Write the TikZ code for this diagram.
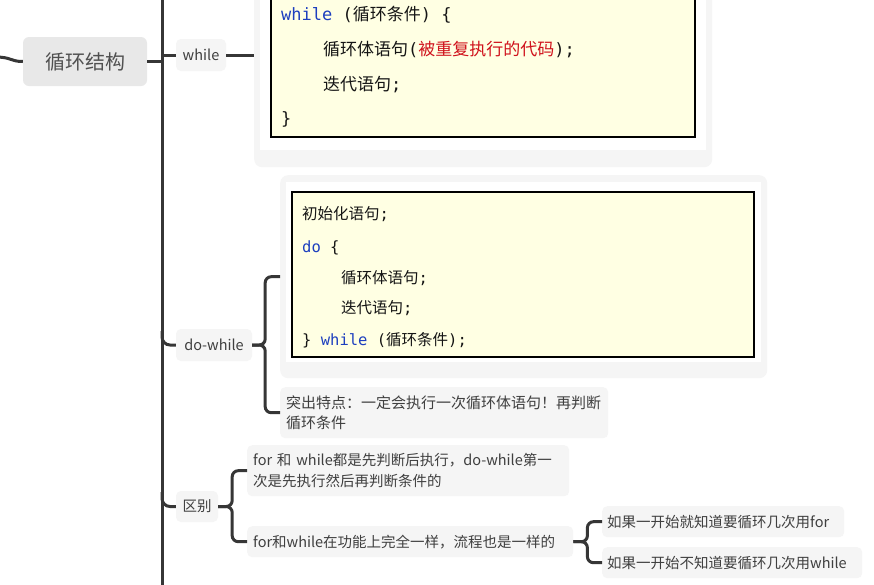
\documentclass[tikz,border=0pt]{standalone}
\usepackage{fontspec}
\setmainfont{Noto Sans CJK SC}
\newfontfamily\codefont{DejaVu Sans Mono}
\newcommand{\cd}[1]{{\codefont #1}}
\newcommand{\kw}[1]{{\codefont\color{kwblue}#1}}

\definecolor{linec}{HTML}{363636}
\definecolor{topicfill}{HTML}{E8E8E8}
\definecolor{leaffill}{HTML}{F5F5F5}
\definecolor{topictext}{HTML}{505050}
\definecolor{leaftext}{HTML}{3F3F3F}
\definecolor{codeyellow}{HTML}{FFFFE3}
\definecolor{codetext}{HTML}{151515}
\definecolor{kwblue}{HTML}{1D3FBF}
\definecolor{redc}{HTML}{D0121C}

\tikzset{
  branch/.style={draw=linec, line width=3},
  topic/.style={fill=topicfill, rounded corners=6, inner sep=0, text=topictext, font=\fontsize{20}{24}\selectfont},
  leaf/.style={fill=leaffill, rounded corners=5, inner sep=0, text=leaftext, font=\fontsize{14.5}{21}\selectfont},
  textleaf/.style={leaf, anchor=north west, align=left, inner xsep=6},
  panel/.style={fill=leaffill, rounded corners=8, inner sep=0, anchor=north west},
  paper/.style={fill=white, inner sep=0, anchor=north west},
  codebox/.style={fill=codeyellow, draw=black, line width=1.5, inner sep=0, anchor=north west},
  codeline/.style={anchor=base west, inner sep=0, text=codetext}
}

\begin{document}
\begin{tikzpicture}[x=1pt,y=1pt,yscale=-1,xscale=1]
\fill [white] (0,0) rectangle (874,584);
\useasboundingbox (0,0) rectangle (874,584);
\clip (0,0) rectangle (874,584);

% topics
\node [topic, minimum width=124, minimum height=49] (loop) at (85,61.5) {循环结构};
\node [leaf, minimum width=50, minimum height=32] (while) at (201,55) {while};
\node [leaf, minimum width=76, minimum height=32] (dowhile) at (214,345) {do-while};
\node [leaf, minimum width=42, minimum height=31] (diff) at (197,506.5) {区别};

% while code
\node [panel, minimum width=458, minimum height=187] (whilepanel) at (254,-20) {};
\node [paper, minimum width=446, minimum height=170] (whilepaper) at (260,-20) {};
\node [codebox, minimum width=424, minimum height=156] (whilecode) at (270,-20) {};
\begin{scope}[font=\fontsize{17}{20}\selectfont]
\node [codeline] (wl1) at (281,20.5) {\kw{while}\cd{ (}循环条件\cd{) \{}};
\node [codeline] (wl2) at (323,55.5) {循环体语句\cd{(}{\color{redc}被重复执行的代码}\cd{);}};
\node [codeline] (wl3) at (323,90.5) {迭代语句\cd{;}};
\node [codeline] (wl4) at (281,124.5) {\cd{\}}};
\end{scope}

% do-while code
\node [panel, minimum width=487, minimum height=203] (dwpanel) at (280,175) {};
\node [paper, minimum width=475, minimum height=180] (dwpaper) at (286,182) {};
\node [codebox, minimum width=462, minimum height=165] (dwcode) at (291,191) {};
\begin{scope}[font=\fontsize{15.5}{18}\selectfont]
\node [codeline] (dl1) at (302,219) {初始化语句\cd{;}};
\node [codeline] (dl2) at (302,252) {\kw{do}\cd{ \{}};
\node [codeline] (dl3) at (341,283) {循环体语句\cd{;}};
\node [codeline] (dl4) at (341,313) {迭代语句\cd{;}};
\node [codeline] (dl5) at (302,345) {\cd{\} }\kw{while}\cd{ (}循环条件\cd{);}};
\end{scope}

% notes
\node [textleaf, text width=316, minimum height=51, font=\fontsize{15}{20}\selectfont] (note) at (280,387) {突出特点：一定会执行一次循环体语句！再判断\\循环条件};
\node [textleaf, text width=310, minimum height=51] (note1) at (247,445) {for 和 while都是先判断后执行，do-while第一\\次是先执行然后再判断条件的};
\node [textleaf, text width=314, minimum height=31] (note2) at (247,526) {for和while在功能上完全一样，流程也是一样的};
\node [textleaf, inner xsep=5, text width=232, minimum height=31] (leaf1) at (602,506) {如果一开始就知道要循环几次用for};
\node [textleaf, inner xsep=5, text width=250, minimum height=31] (leaf2) at (602,547) {如果一开始不知道要循环几次用while};

% connectors
\coordinate (rootin) at (-5,57);
\coordinate (trunktop) at (162,-5);
\coordinate (trunkbot) at (162,590);
\coordinate (dwfork) at (162,331);
\coordinate (difffork) at (162,492);
\draw [branch] (rootin) .. controls (12,57) and (10,61.5) .. (loop.west);
\draw [branch] (trunktop) -- (trunkbot);
\draw [branch] (loop.east) -- (loop.east -| trunktop);
\draw [branch] (while.west -| trunktop) -- (while.west);
\draw [branch] (while.east) -- (while.east -| whilepanel.west);
\draw [branch, rounded corners=8] (dwfork) |- (dowhile.west);
\draw [branch, rounded corners=8] (difffork) |- (diff.west);
\draw [branch, rounded corners=6] (dowhile.east) -- ++(13,0) |- (dwpanel.west);
\draw [branch, rounded corners=6] (dowhile.east) -- ++(13,0) |- (note.west);
\draw [branch, rounded corners=6] (diff.east) -- ++(14,0) |- (note1.west);
\draw [branch, rounded corners=6] (diff.east) -- ++(14,0) |- (note2.west);
\draw [branch, rounded corners=6] (note2.east) -- ++(14,0) |- (leaf1.west);
\draw [branch, rounded corners=6] (note2.east) -- ++(14,0) |- (leaf2.west);
\end{tikzpicture}
\end{document}
